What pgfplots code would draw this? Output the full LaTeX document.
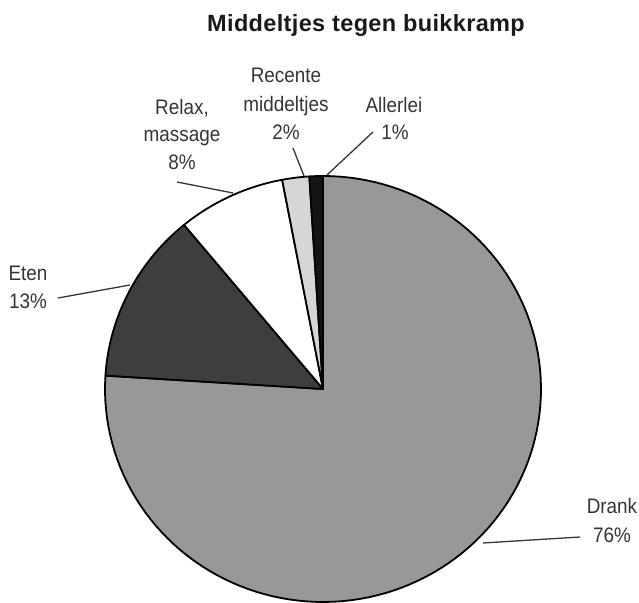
\documentclass[border=0pt]{standalone}
\usepackage{fontspec}
\setmainfont{Liberation Sans}
\newfontfamily\labfont[FakeStretch=0.9]{Liberation Sans}
\newfontfamily\titfont[LetterSpace=1.5]{Liberation Sans}
\usepackage{pgfplots}
\pgfplotsset{compat=1.18}
\definecolor{cDrank}{HTML}{989898}
\definecolor{cEten}{HTML}{3E3E3E}
\definecolor{cRelax}{HTML}{FFFFFF}
\definecolor{cRecente}{HTML}{D6D6D6}
\definecolor{cAllerlei}{HTML}{141414}
\definecolor{txt}{HTML}{353535}
% data: percentages
\def\pDrank{76}
\def\pEten{13}
\def\pRelax{8}
\def\pRecente{2}
\def\pAllerlei{1}
\def\cx{323}\def\cy{214}\def\rx{218}\def\ry{213}
\newcommand\slice[3]{% start angle, end angle, colour
  \addplot[draw=black, line width=1.8bp, line join=round, fill=#3, domain=#2:#1, samples=120, variable=\t]
    ({\cx+\rx*cos(\t)},{\cy+\ry*sin(\t)}) -- (axis cs:\cx,\cy) -- cycle;}
\newcommand\lab[3]{\node[anchor=base, font=\labfont\fontsize{21bp}{21bp}\selectfont, text=txt, inner sep=0pt] at (axis cs:#1,{603-#2}) {#3};}
\newcommand\leader[4]{\addplot[txt, line width=1.3bp] coordinates {(#1,{603-#2}) (#3,{603-#4})};}
\begin{document}
\begin{tikzpicture}
\path[use as bounding box] (0,0) rectangle (639bp,603bp);
\pgfmathsetmacro\aA{90}
\pgfmathsetmacro\aB{\aA-3.6*\pDrank}
\pgfmathsetmacro\aC{\aB-3.6*\pEten}
\pgfmathsetmacro\aD{\aC-3.6*\pRelax}
\pgfmathsetmacro\aE{\aD-3.6*\pRecente}
\pgfmathsetmacro\aF{\aE-3.6*\pAllerlei}
\begin{axis}[at={(0,0)}, anchor=south west, x=1bp, y=1bp, xmin=0, xmax=639, ymin=0, ymax=603,
  hide axis, clip=false]
\slice{\aA}{\aB}{cDrank}
\slice{\aB}{\aC}{cEten}
\slice{\aC}{\aD}{cRelax}
\slice{\aD}{\aE}{cRecente}
\slice{\aE}{\aF}{cAllerlei}
% leader lines
\leader{58}{298}{130}{285}
\leader{177}{182}{233}{193}
\leader{293}{148}{304}{176}
\leader{373}{132}{327}{175}
\leader{483}{543}{580}{537}
% labels
\lab{182}{115}{Relax,}
\lab{182}{142}{massage}
\lab{182}{170}{8\%}
\lab{286}{83}{Recente}
\lab{286}{112}{middeltjes}
\lab{286}{140}{2\%}
\lab{394}{113}{Allerlei}
\lab{395}{140}{1\%}
\lab{28}{280}{Eten}
\lab{28}{308}{13\%}
\lab{612}{513}{Drank}
\lab{612}{542}{76\%}
\node[anchor=base, inner sep=0pt, font=\titfont\bfseries\fontsize{23.5bp}{24bp}\selectfont, text=black!90] at (axis cs:366,571) {Middeltjes tegen buikkramp};
\end{axis}
\end{tikzpicture}
\end{document}
